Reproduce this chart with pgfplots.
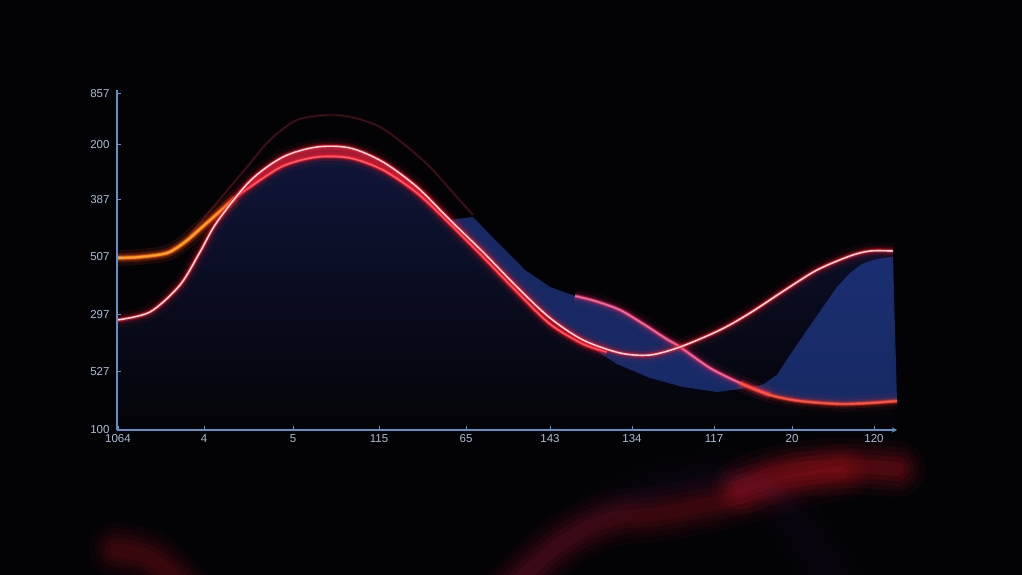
\documentclass[border=0pt]{standalone}
\usepackage{fontspec}
\setmainfont{Liberation Sans}
\usepackage{pgfplots}
\pgfplotsset{compat=1.18}
\usepackage{pgfplotstable}
\definecolor{glowred}{RGB}{255,30,45}
\definecolor{corewhite}{RGB}{255,228,232}
\definecolor{orng}{RGB}{255,125,35}
\definecolor{pinkl}{RGB}{235,50,110}
\definecolor{tailred}{RGB}{255,60,40}
\definecolor{bandblue}{RGB}{40,72,175}
\definecolor{navyfill}{RGB}{16,22,58}
\definecolor{axisblue}{RGB}{95,145,200}
\definecolor{labelcol}{RGB}{170,188,212}
\definecolor{faintred}{RGB}{110,25,35}
\definecolor{bgcol}{RGB}{3,3,6}

\pgfplotstableread{
x y
0 110
33 118
63 145
83 178
100 208
133 249
166 273
200 283
233 282
266 268
300 243
333 210
366 178
400 143
433 112
466 90
503 77
533 75
563 83
603 100
633 117
668 140
700 160
733 174
753 179
776 179
}\tA

\pgfplotstableread{
x y
0 110
33 118
63 145
83 178
100 208
133 249
166 273
200 283
233 282
266 268
300 243
333 210
366 178
400 143
433 112
466 90
503 77
533 75
563 70
603 62
643 52
683 40
723 33
}\tAr

\pgfplotstableread{
x y
0 0
0 110
33 118
63 145
83 178
100 208
133 249
166 273
200 283
233 282
266 268
300 243
333 210
366 178
400 143
433 112
466 90
503 77
533 75
563 83
603 100
633 117
668 140
700 160
733 174
753 179
776 179
776 0
}\tAfill

\pgfplotstableread{
x y
0 172
23 173
50 177
68 188
83 201
100 216
118 232
133 243
166 264
200 273
233 272
266 260
300 237
333 206
366 173
400 138
433 106
466 86
490 78
}\tB

\pgfplotstableread{
x y
0 172
23 173
50 177
68 188
83 201
100 216
118 232
}\tBo

\pgfplotstableread{
x y
133 249
166 273
200 283
233 282
266 268
300 243
333 210
300 237
266 260
233 272
200 273
166 264
133 243
}\tABfill

\pgfplotstableread{
x y
73 195
98 225
130 263
153 290
180 310
213 315
238 312
263 303
288 285
313 263
338 235
356 215
}\tCfaint

\pgfplotstableread{
x y
458 134
478 129
503 120
528 105
548 92
563 83
593 62
623 47
653 35
}\tCpink

\pgfplotstableread{
x y
623 47
653 35
683 29
723 26
753 27
780 29
}\tCred

\pgfplotstableread{
x y
333 210
356 213
383 185
408 160
433 143
458 134
478 129
503 120
528 105
548 92
563 83
578 72
593 62
608 54
623 47
638 41
653 35
668 32
683 29
703 27
723 26
753 27
780 29
776 173
766 172
756 170
745 166
733 157
720 143
706 123
690 100
673 75
660 55
645 45
623 41
600 38
566 43
533 52
500 66
466 88
433 112
400 143
366 178
}\tBand

\pgfplotstableread{
x y
333 210
366 178
400 143
433 112
466 88
500 66
533 52
566 43
600 38
623 41
645 45
660 55
673 75
690 100
706 123
720 143
733 157
745 166
756 170
776 173
}\tD

\newcommand{\glow}[3]{%
  \addplot[smooth, draw=#2, line width=16pt, opacity=0.05] table {#1};
  \addplot[smooth, draw=#2, line width=9pt, opacity=0.12] table {#1};
  \addplot[smooth, draw=#2, line width=5pt, opacity=0.3] table {#1};
  \addplot[smooth, draw=#2, line width=2.9pt, opacity=0.8] table {#1};
  \addplot[smooth, draw=#3, line width=1.4pt] table {#1};
}
\newcommand{\blur}[3]{%
  \addplot[smooth, line cap=round, draw=#2, line width=56pt, opacity=#3*0.35] table {#1};
  \addplot[smooth, line cap=round, draw=#2, line width=44pt, opacity=#3*0.45] table {#1};
  \addplot[smooth, line cap=round, draw=#2, line width=34pt, opacity=#3*0.55] table {#1};
  \addplot[smooth, line cap=round, draw=#2, line width=24pt, opacity=#3*0.65] table {#1};
  \addplot[smooth, line cap=round, draw=#2, line width=14pt, opacity=#3*0.75] table {#1};
}

\begin{document}
\begin{tikzpicture}
\fill[bgcol] (0,0) rectangle (1022pt,575pt);
\begin{scope}
\clip (0,0) rectangle (1022pt,575pt);
% reflection
\begin{axis}[
  at={(117pt,135pt)}, anchor=north west,
  scale only axis, width=780pt, height=340pt,
  xmin=0, xmax=780, ymin=0, ymax=340, y dir=reverse,
  axis lines=none, clip=false]
  \blur{\tAr}{glowred!75!black}{0.12}
  \blur{\tCred}{glowred!85!black}{0.15}
  \blur{\tD}{bandblue!70!pinkl}{0.03}
\end{axis}

\begin{axis}[
  at={(117pt,145pt)}, anchor=south west,
  scale only axis, width=780pt, height=340pt,
  xmin=0, xmax=780, ymin=0, ymax=340,
  axis x line=bottom, axis y line=left,
  axis line style={axisblue, line width=1.3pt},
  x axis line style={-stealth},
  y axis line style={-},
  tick align=inside,
  major tick length=4pt,
  tick style={axisblue, line width=1pt},
  xtick={1,87,176,262,349,433,515,597,675,757},
  xticklabels={1064,4,5,115,65,143,134,117,20,120},
  ytick={0,58,115,173,230,285,336},
  yticklabels={100,527,297,507,387,200,857},
  ticklabel style={font=\fontsize{11.5}{13}\selectfont, text=labelcol},
  yticklabel style={xshift=-4pt},
  xticklabel style={yshift=-1pt},
  clip=false, axis on top]

  % dark navy area under main curve
  \addplot[draw=none, top color=navyfill, bottom color=bgcol] table {\tAfill};
  % blue band
  \addplot[fill=bandblue, draw=none, opacity=0.55] table {\tBand};
  % pink band near peak
  \addplot[fill=glowred!80!pinkl, draw=none, opacity=0.55] table {\tABfill};

  % faint line above the peak
  \addplot[smooth, draw=faintred, line width=3pt, opacity=0.2] table {\tCfaint};
  \addplot[smooth, draw=faintred, line width=0.8pt, opacity=0.75] table {\tCfaint};

  % red curve B
  \glow{\tB}{glowred}{glowred!70!white}
  % orange start of B
  \glow{\tBo}{orng}{orng!60!yellow}
  % pink curve C
  \glow{\tCpink}{pinkl}{pinkl!70!white}
  \glow{\tCred}{tailred}{tailred!85!white}
  % main white curve A
  \glow{\tA}{glowred}{corewhite}
\end{axis}
\end{scope}
\pgfresetboundingbox
\path[use as bounding box] (0,0) rectangle (1022pt,575pt);
\end{tikzpicture}
\end{document}
